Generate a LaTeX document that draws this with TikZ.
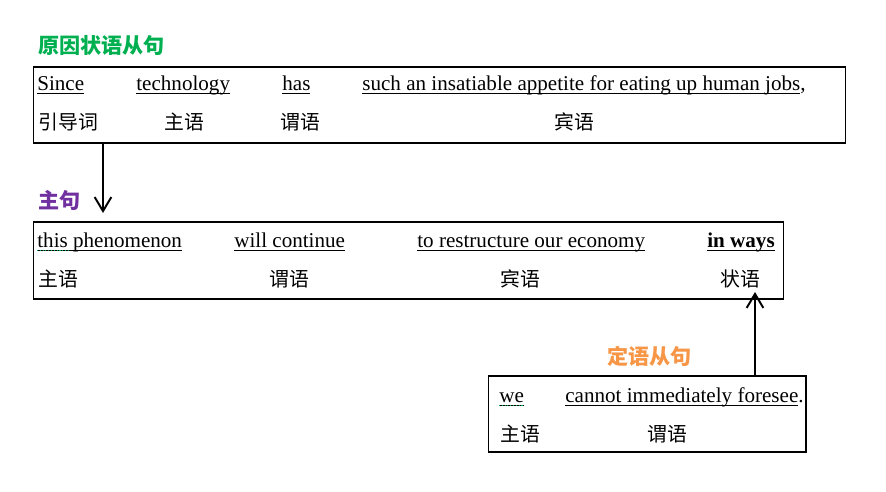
\documentclass[tikz,border=0pt]{standalone}
\usepackage{fontspec}
\setmainfont{Liberation Serif}
\newfontfamily\cjk{Noto Sans CJK SC}
\usepackage{tikz}
\usetikzlibrary{arrows.meta}
\definecolor{cgreen}{HTML}{00B050}
\definecolor{cpurple}{HTML}{7030A0}
\definecolor{corange}{HTML}{F79646}
\newcommand{\uword}[1]{\underline{\smash{#1}}}

\begin{document}
\begin{tikzpicture}[x=0.02cm, y=-0.02cm,
    box/.style={draw, rectangle, line width=0.6pt, inner sep=0},
    word/.style={anchor=base west, inner sep=0, font=\fontsize{12}{14}\selectfont},
    role/.style={anchor=base west, inner sep=0, font=\fontsize{11.3}{13}\selectfont\cjk},
    title/.style={anchor=base west, inner sep=0, font=\fontsize{12}{14}\selectfont\cjk\bfseries},
    link/.style={-{Straight Barb[length=8pt,width=9.5pt]}, line width=1.1pt},
    squiggle/.style={cgreen, densely dotted, line width=0.6pt}]
    \useasboundingbox (0,0) rectangle (886,492);

    \node[box, minimum width=16.26cm, minimum height=1.52cm] (reason) at (439.5, 105) {};
    \node[box, minimum width=15.02cm, minimum height=1.54cm] (main) at (408.5, 260.5) {};
    \node[box, minimum width=6.36cm, minimum height=1.52cm] (attrib) at (647, 414) {};

    \node[title, text=cgreen] (reasontitle) at (38, 54) {原因状语从句};
    \node[title, text=cpurple] (maintitle) at (38, 209) {主句};
    \node[title, text=corange] (attribtitle) at (607, 365) {定语从句};

    \node[word] (since) at (37, 91) {\uword{Since}};
    \node[word] (tech) at (136, 91) {\uword{technology}};
    \node[word] (has) at (282, 91) {\uword{has}};
    \node[word] (appetite) at (362, 91) {\uword{such an insatiable appetite for eating up human jobs},};
    \node[role] (intro) at (38, 130) {引导词};
    \node[role] (subj1) at (164, 130) {主语};
    \node[role] (pred1) at (280, 130) {谓语};
    \node[role] (obj1) at (554, 130) {宾语};

    \node[word] (phen) at (37, 248) {\uword{this phenomenon}};
    \node[word] (cont) at (234, 248) {\uword{will continue}};
    \node[word] (restr) at (417, 248) {\uword{to restructure our economy}};
    \node[word] (ways) at (707, 248) {\uword{\bfseries in ways}};
    \node[role] (subj2) at (38, 287) {主语};
    \node[role] (pred2) at (269, 287) {谓语};
    \node[role] (obj2) at (500, 287) {宾语};
    \node[role] (adv2) at (720, 287) {状语};

    \node[word] (we) at (499, 403) {\uword{we}};
    \node[word] (foresee) at (565, 403) {\uword{cannot immediately foresee}.};
    \node[role] (subj3) at (500, 442) {主语};
    \node[role] (pred3) at (647, 442) {谓语};

    \draw[squiggle] ([yshift=-1.6pt]phen.base west) -- ++(33, 0);
    \draw[squiggle] ([yshift=-1.6pt]we.base west) -- ++(24, 0);

    \coordinate (downend) at (103, 213);
    \coordinate (upend) at (755, 292);
    \draw[link] (downend |- reason.south) -- (downend);
    \draw[link] (upend |- attrib.north) -- (upend);
\end{tikzpicture}
\end{document}
